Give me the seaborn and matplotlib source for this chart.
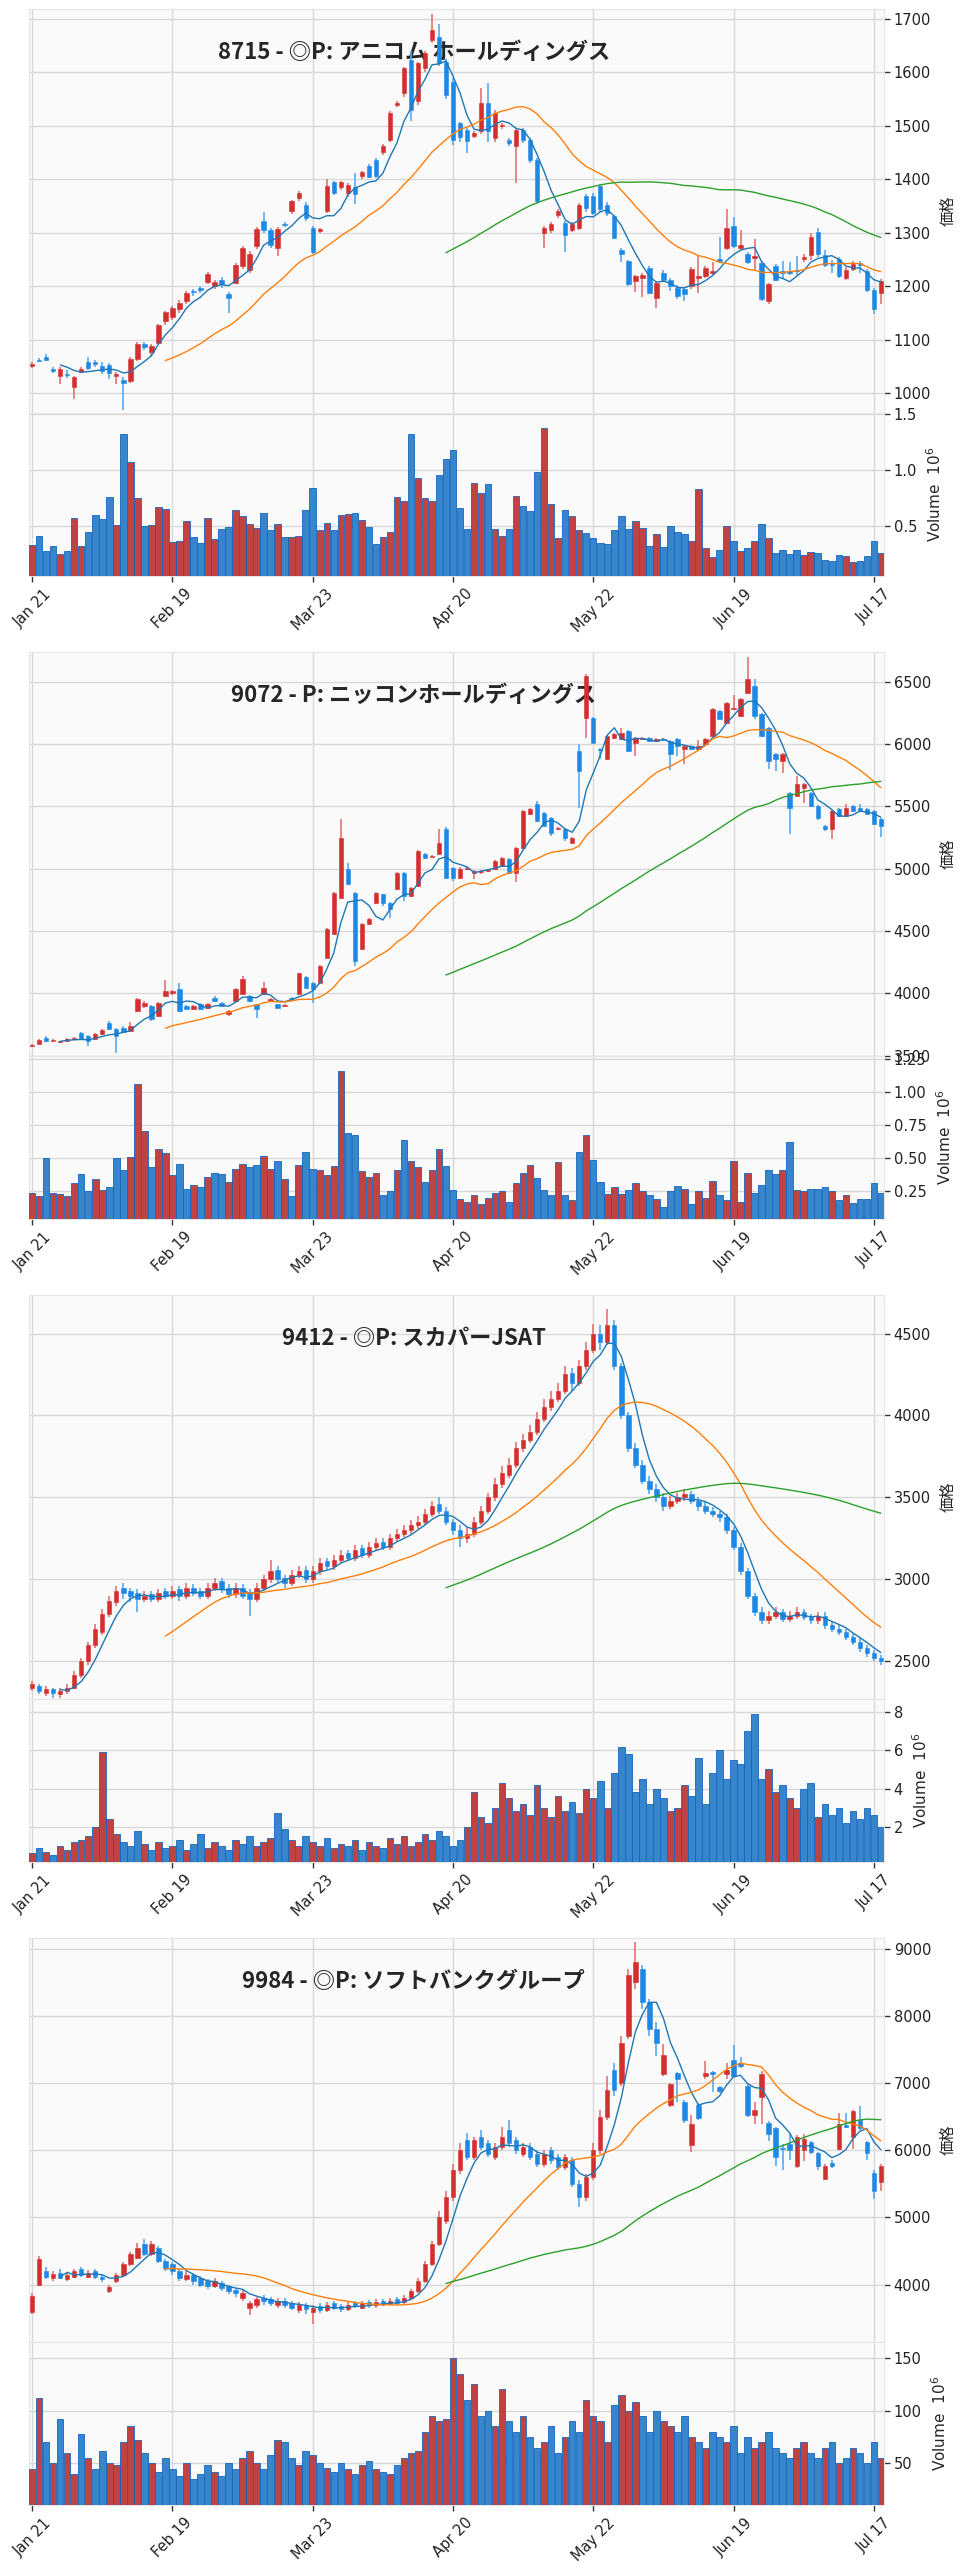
import numpy as np
import pandas as pd
import matplotlib
matplotlib.use("Agg")
import matplotlib.pyplot as plt
from matplotlib.ticker import MultipleLocator
import seaborn as sns

sns.set_theme(style="whitegrid")
plt.rcParams['font.family'] = ['DejaVu Sans', 'Noto Sans CJK JP']
plt.rcParams['axes.unicode_minus'] = False

# ---------------- data ----------------
TICK_POS = [0, 20, 40, 60, 80, 100, 120]
TICK_LABELS = ["Jan 21", "Feb 19", "Mar 23", "Apr 20", "May 22", "Jun 19", "Jul 17"]
TITLES = ["8715 - ◎P: アニコム ホールディングス", "9072 - P: ニッコンホールディングス",
          "9412 - ◎P: スカパーJSAT", "9984 - ◎P: ソフトバンクグループ"]
MA_WINDOWS = [5, 20, 60]
MA_COLORS = ["#1f77b4", "#ff7f0e", "#2ca02c"]

O1 = [1052,1063,1068,1046,1033,1037,1012,1041,1058,1058,
      1052,1053,1032,1025,1024,1064,1093,1078,1095,1135,
      1142,1157,1173,1192,1197,1208,1200,1213,1185,1207,
      1238,1230,1275,1322,1306,1272,1317,1341,1365,1352,
      1310,1304,1341,1395,1386,1375,1386,1406,1425,1437,
      1451,1474,1540,1561,1624,1546,1608,1661,1667,1620,
      1583,1505,1493,1481,1490,1543,1477,1499,1474,1462,
      1493,1474,1437,1300,1306,1334,1319,1306,1310,1369,
      1369,1387,1353,1331,1269,1247,1210,1216,1235,1179,
      1226,1213,1198,1195,1200,1216,1219,1225,1252,1272,
      1313,1272,1260,1253,1244,1173,1238,1228,1229,1230,
      1252,1258,1302,1258,1242,1251,1215,1233,1243,1229,
      1193,1188]
C1 = [1056,1061,1062,1042,1046,1034,1031,1046,1047,1055,
      1042,1039,1036,1020,1064,1093,1086,1089,1128,1152,
      1160,1170,1188,1189,1193,1223,1208,1204,1179,1240,
      1272,1260,1308,1306,1278,1308,1315,1359,1375,1328,
      1264,1307,1387,1375,1395,1390,1372,1413,1405,1406,
      1462,1524,1543,1608,1530,1617,1636,1680,1617,1558,
      1474,1480,1471,1487,1543,1490,1524,1502,1468,1493,
      1474,1437,1359,1310,1316,1341,1297,1316,1353,1347,
      1337,1344,1337,1291,1260,1204,1219,1222,1188,1207,
      1213,1200,1182,1185,1232,1220,1235,1229,1248,1310,
      1275,1278,1245,1257,1176,1204,1213,1225,1226,1228,
      1255,1292,1260,1241,1240,1220,1231,1242,1240,1193,
      1157,1210]
H1 = [1058,1066,1073,1050,1050,1044,1033,1049,1069,1063,
      1058,1057,1040,1030,1068,1096,1097,1092,1130,1155,
      1163,1174,1192,1196,1201,1227,1212,1218,1190,1243,
      1275,1266,1312,1340,1310,1312,1320,1362,1378,1357,
      1313,1310,1400,1398,1398,1393,1412,1416,1428,1440,
      1466,1528,1546,1611,1640,1620,1640,1709,1690,1625,
      1590,1508,1497,1490,1570,1580,1530,1505,1478,1496,
      1497,1478,1440,1313,1320,1345,1322,1320,1356,1372,
      1375,1392,1357,1334,1272,1250,1222,1226,1238,1210,
      1230,1216,1202,1198,1236,1258,1238,1245,1292,1345,
      1330,1305,1265,1288,1248,1207,1242,1248,1245,1256,
      1260,1300,1310,1268,1250,1255,1236,1248,1247,1232,
      1198,1214]
L1 = [1048,1059,1060,1038,1018,1028,990,1038,1044,1049,
      1036,1027,1018,969,1020,1060,1082,1070,1092,1128,
      1138,1150,1168,1183,1188,1204,1195,1198,1150,1204,
      1232,1226,1270,1300,1272,1257,1312,1336,1360,1322,
      1260,1300,1338,1370,1380,1368,1355,1400,1402,1403,
      1446,1470,1535,1555,1510,1540,1600,1655,1612,1550,
      1465,1470,1450,1478,1485,1470,1470,1494,1462,1393,
      1468,1430,1355,1272,1300,1328,1265,1302,1305,1340,
      1333,1340,1332,1288,1245,1200,1190,1180,1185,1160,
      1208,1192,1176,1172,1195,1188,1215,1222,1244,1268,
      1272,1268,1242,1228,1172,1168,1210,1215,1222,1222,
      1245,1250,1255,1236,1226,1215,1212,1228,1226,1190,
      1148,1168]
V1 = [0.33,0.41,0.28,0.32,0.25,0.28,0.57,0.32,0.45,0.60,
      0.56,0.76,0.51,1.32,1.07,0.75,0.50,0.51,0.67,0.65,
      0.36,0.37,0.54,0.40,0.35,0.57,0.38,0.47,0.49,0.64,
      0.59,0.52,0.48,0.62,0.46,0.52,0.40,0.40,0.41,0.64,
      0.84,0.46,0.53,0.46,0.60,0.61,0.62,0.55,0.49,0.34,
      0.40,0.45,0.76,0.72,1.32,0.93,0.75,0.72,0.95,1.10,
      1.18,0.66,0.47,0.88,0.79,0.87,0.47,0.41,0.47,0.77,
      0.68,0.63,0.98,1.37,0.70,0.39,0.64,0.59,0.46,0.44,
      0.39,0.35,0.34,0.46,0.59,0.47,0.54,0.48,0.32,0.43,
      0.31,0.50,0.45,0.43,0.37,0.83,0.30,0.22,0.29,0.50,
      0.37,0.28,0.30,0.37,0.52,0.39,0.26,0.29,0.25,0.29,
      0.24,0.27,0.26,0.20,0.19,0.24,0.23,0.18,0.19,0.23,
      0.37,0.26]

O2 = [3578,3596,3644,3618,3608,3616,3631,3684,3658,3631,
      3671,3765,3711,3725,3698,3858,3898,3898,3818,3979,
      4003,4032,3898,3872,3912,3885,3965,3925,3832,3938,
      3992,3979,3912,3992,3938,3912,3898,3965,3992,4134,
      4086,4086,4286,4473,4767,4995,4808,4353,4553,4727,
      4794,4727,4834,4968,4781,4861,5115,5096,5115,5316,
      5008,4928,4995,4968,4970,4980,4995,5021,5075,4968,
      5169,5436,5516,5449,5409,5316,5316,5209,5944,6211,
      6211,5962,5877,6050,6038,6104,6011,6040,6045,6024,
      6038,6024,6038,5957,5984,5957,5997,6064,6265,6171,
      6278,6225,6412,6465,6238,6131,5917,5864,5610,5583,
      5650,5610,5503,5342,5316,5476,5423,5503,5489,5476,
      5463,5396]
C2 = [3588,3626,3618,3628,3614,3630,3644,3631,3618,3671,
      3706,3711,3658,3690,3738,3952,3925,3791,3925,4019,
      4016,3858,3872,3898,3872,3912,3938,3898,3858,4032,
      4118,3938,3872,4045,3952,3885,3908,3952,4160,4045,
      4032,4219,4513,4808,5249,4874,4259,4553,4594,4808,
      4727,4674,4968,4781,4848,5142,5088,5102,5209,4928,
      4928,5000,5005,4981,4980,4990,5062,5088,4968,5169,
      5463,5476,5383,5342,5289,5329,5249,5249,5784,6545,
      6011,5952,6064,6077,6091,5944,6051,6048,6024,6038,
      6032,5917,5984,5984,5957,5984,6038,6278,6198,6332,
      6291,6358,6519,6225,6064,5864,5877,5917,5489,5677,
      5677,5503,5409,5316,5463,5423,5489,5463,5463,5436,
      5356,5342]
H2 = [3595,3632,3660,3636,3620,3640,3650,3690,3664,3680,
      3715,3775,3720,3740,3770,3960,3935,3905,3930,4110,
      4030,4080,3910,3905,3920,3920,3975,3932,3865,4040,
      4140,3985,3918,4090,3960,3918,3912,3970,4165,4140,
      4090,4225,4520,4815,5396,5048,4815,4560,4600,4815,
      4800,4735,4975,4975,4855,5150,5125,5108,5320,5330,
      5015,5010,5012,4990,4990,5000,5070,5095,5082,5176,
      5470,5483,5540,5456,5415,5336,5322,5256,6000,6560,
      6218,5968,6071,6090,6130,6111,6058,6055,6052,6045,
      6045,6031,6045,5991,5991,6030,6045,6285,6272,6339,
      6390,6365,6701,6520,6245,6138,5924,5924,5617,5740,
      5684,5617,5510,5349,5470,5483,5520,5510,5520,5483,
      5470,5403]
L2 = [3570,3590,3612,3612,3600,3610,3625,3625,3577,3625,
      3665,3705,3524,3680,3690,3850,3880,3780,3810,3970,
      3990,3850,3865,3865,3865,3878,3930,3890,3820,3930,
      3985,3930,3805,3985,3930,3878,3892,3945,3985,4040,
      3925,4080,4280,4465,4760,4868,4220,4345,4545,4720,
      4700,4600,4828,4740,4775,4855,5080,5090,5108,4920,
      4900,4920,4985,4920,4960,4970,4988,5015,4960,4890,
      5160,5428,5375,5335,5260,5308,5220,5202,5489,6050,
      6004,5880,5870,6043,6031,5937,5900,6033,6017,6017,
      6025,5790,5900,5840,5950,5950,5990,6057,6191,6164,
      6271,6218,6405,6200,6057,5800,5780,5770,5280,5576,
      5530,5496,5390,5300,5240,5416,5416,5456,5456,5429,
      5349,5250]
V2 = [0.24,0.21,0.50,0.24,0.23,0.21,0.31,0.38,0.25,0.34,
      0.26,0.28,0.50,0.41,0.51,1.06,0.71,0.43,0.57,0.54,
      0.37,0.46,0.27,0.30,0.28,0.36,0.39,0.38,0.32,0.42,
      0.46,0.43,0.45,0.52,0.42,0.48,0.34,0.21,0.45,0.55,
      0.42,0.41,0.37,0.44,1.16,0.69,0.68,0.40,0.36,0.39,
      0.22,0.25,0.41,0.64,0.48,0.43,0.32,0.41,0.57,0.44,
      0.26,0.19,0.17,0.22,0.15,0.20,0.24,0.25,0.17,0.31,
      0.39,0.45,0.35,0.26,0.22,0.47,0.22,0.18,0.55,0.68,
      0.49,0.32,0.23,0.28,0.23,0.26,0.31,0.25,0.22,0.19,
      0.13,0.25,0.29,0.27,0.15,0.25,0.20,0.33,0.22,0.18,
      0.48,0.17,0.39,0.24,0.30,0.41,0.38,0.41,0.62,0.26,
      0.25,0.27,0.27,0.28,0.25,0.18,0.22,0.16,0.19,0.19,
      0.31,0.24]

O3 = [2340,2350,2310,2330,2300,2320,2340,2420,2500,2600,
      2680,2790,2860,2950,2930,2920,2880,2910,2880,2930,
      2900,2940,2900,2950,2930,2900,2950,2990,2950,2910,
      2950,2920,2880,2950,3000,3060,3010,2980,3030,3060,
      3000,3050,3110,3080,3120,3160,3130,3190,3150,3200,
      3230,3200,3250,3280,3300,3330,3350,3400,3460,3420,
      3350,3300,3250,3280,3350,3420,3500,3580,3640,3700,
      3800,3850,3900,3980,4050,4100,4150,4260,4200,4300,
      4400,4500,4450,4550,4300,4000,3800,3700,3600,3550,
      3500,3450,3480,3500,3520,3480,3450,3420,3400,3380,
      3300,3200,3050,2900,2800,2750,2780,2800,2760,2780,
      2800,2770,2750,2780,2720,2700,2680,2650,2620,2580,
      2550,2520]
C3 = [2360,2320,2330,2310,2320,2340,2420,2500,2600,2700,
      2790,2870,2930,2920,2900,2880,2900,2880,2920,2900,
      2930,2900,2950,2920,2900,2950,2980,2940,2910,2950,
      2900,2880,2950,3000,3050,3000,2980,3030,3050,3000,
      3050,3100,3080,3120,3150,3130,3180,3150,3200,3220,
      3200,3250,3280,3300,3330,3350,3400,3450,3420,3350,
      3300,3250,3280,3350,3420,3500,3580,3650,3700,3800,
      3850,3900,3980,4050,4100,4150,4250,4200,4300,4400,
      4500,4450,4550,4300,4000,3800,3700,3600,3550,3500,
      3450,3480,3500,3520,3480,3450,3420,3400,3380,3300,
      3200,3050,2900,2800,2750,2780,2800,2760,2780,2800,
      2770,2750,2780,2720,2700,2680,2650,2620,2580,2550,
      2520,2500]
H3 = [2380,2360,2350,2340,2340,2360,2440,2520,2620,2730,
      2820,2900,2960,2980,2950,2940,2930,2930,2940,2950,
      2960,2960,2980,2970,2950,2980,3010,3010,2970,2980,
      2970,2940,2980,3030,3120,3080,3030,3060,3080,3080,
      3080,3130,3130,3150,3180,3180,3210,3210,3230,3250,
      3250,3280,3310,3330,3360,3390,3430,3480,3500,3440,
      3370,3330,3320,3380,3450,3530,3620,3690,3740,3840,
      3890,3940,4020,4100,4150,4200,4300,4290,4340,4450,
      4560,4550,4650,4580,4320,4020,3830,3730,3630,3580,
      3530,3510,3530,3550,3540,3500,3470,3440,3420,3400,
      3320,3220,3070,2920,2830,2810,2830,2820,2810,2830,
      2820,2790,2800,2800,2740,2720,2700,2670,2640,2600,
      2570,2540]
L3 = [2320,2300,2290,2280,2280,2300,2330,2400,2480,2580,
      2660,2770,2840,2880,2860,2800,2860,2860,2860,2880,
      2880,2870,2880,2900,2880,2880,2930,2920,2890,2890,
      2880,2780,2860,2930,2980,2980,2950,2960,3010,2980,
      2980,3030,3060,3060,3100,3110,3110,3130,3130,3180,
      3180,3180,3230,3260,3280,3310,3330,3380,3400,3330,
      3270,3200,3220,3260,3330,3400,3480,3560,3620,3680,
      3780,3830,3880,3960,4030,4080,4130,4150,4180,4280,
      4380,4400,4430,4280,3980,3780,3680,3580,3520,3470,
      3420,3430,3460,3480,3460,3420,3400,3380,3350,3280,
      3180,3030,2880,2780,2730,2730,2760,2740,2740,2760,
      2750,2730,2730,2700,2680,2660,2630,2600,2560,2530,
      2500,2480]
V3 = [0.6,0.9,0.7,0.5,1.0,0.8,1.2,1.3,1.5,2.0,
      5.9,2.4,1.6,1.2,1.0,1.8,1.1,0.8,1.2,0.9,
      1.0,1.3,0.8,1.1,1.6,0.9,1.2,1.0,0.8,1.3,
      1.1,1.5,1.0,1.2,1.4,2.7,1.9,1.3,1.0,1.5,
      1.2,1.0,1.4,0.9,1.1,1.0,1.3,0.8,1.2,1.0,
      0.9,1.4,1.1,1.5,1.0,1.2,1.6,1.3,1.8,1.5,
      1.0,1.3,2.0,3.8,2.5,2.2,3.0,4.3,3.5,2.8,
      3.2,2.6,4.2,3.0,2.5,3.6,2.8,3.3,2.7,4.0,
      3.5,4.4,3.0,4.8,6.2,5.8,3.8,4.5,3.2,4.0,
      3.5,2.8,3.0,4.2,3.6,5.6,3.2,4.8,6.0,4.5,
      5.5,5.3,7.0,7.9,4.5,5.0,3.8,4.2,3.5,3.0,
      4.0,4.3,2.5,3.2,2.6,3.0,2.2,2.8,2.4,3.0,
      2.6,2.0]

O4 = [3600,4000,4200,4100,4180,4090,4120,4230,4120,4200,
      4120,3900,4050,4150,4300,4400,4600,4450,4550,4350,
      4300,4200,4080,4150,4100,4050,3980,4020,3980,3920,
      3800,3650,3700,3800,3780,3700,3760,3720,3620,3700,
      3600,3680,3620,3720,3680,3640,3720,3660,3740,3690,
      3760,3710,3780,3740,3800,3900,4050,4300,4600,4950,
      5300,5700,6150,5900,6200,6100,5900,6050,6300,6150,
      5950,6050,5950,5800,6000,5900,5750,5850,5500,5300,
      5600,6000,6500,7200,7000,7700,8500,8700,8200,7800,
      7128,6672,7152,6720,6072,6672,7104,7160,6936,7128,
      7344,7296,6960,6528,6792,6408,6326,6040,6096,5760,
      6000,6120,5952,5578,5808,6024,6370,6192,6446,6120,
      5664,5520]
C4 = [3830,4380,4120,4160,4100,4150,4200,4150,4180,4120,
      4080,3960,4150,4300,4450,4550,4450,4600,4350,4250,
      4200,4100,4150,4050,4000,3980,4050,3950,3900,3870,
      3880,3720,3780,3750,3720,3760,3700,3660,3700,3640,
      3660,3620,3700,3660,3640,3700,3680,3720,3700,3740,
      3710,3760,3730,3800,3900,4050,4300,4600,5000,5300,
      5700,6000,5900,6150,6050,5950,6050,6200,6100,6000,
      6050,5900,5800,5950,5850,5750,5900,5500,5300,5600,
      6000,6500,6900,6900,7600,8600,8800,8200,7800,7600,
      7416,6984,7056,6456,6384,6480,7142,7140,6888,7190,
      7104,7248,6518,6600,7128,6240,5894,6020,6000,6192,
      6168,5976,5770,5770,5760,6384,6350,6576,6336,5962,
      5400,5760]
H4 = [3880,4420,4260,4200,4230,4180,4240,4260,4220,4230,
      4150,4000,4180,4330,4480,4620,4680,4650,4580,4380,
      4330,4250,4200,4180,4130,4080,4100,4050,4000,3950,
      3920,3760,3820,3840,3820,3800,3800,3760,3740,3730,
      3700,3720,3740,3760,3710,3740,3760,3760,3770,3780,
      3790,3800,3810,3840,3940,4100,4350,4650,5100,5400,
      5800,6100,6250,6200,6300,6150,6100,6350,6450,6200,
      6100,6100,6000,6000,6050,5950,5950,5900,5550,5650,
      6100,6600,7100,7300,7700,8700,9100,8750,8250,7900,
      7584,7000,7170,6740,6528,6700,7320,7180,6960,7296,
      7560,7392,6980,6720,7180,6430,6340,6096,6240,6220,
      6240,6140,5970,5800,5860,6552,6552,6600,6660,6140,
      5700,5790]
L4 = [3560,3980,4080,4060,4080,4050,4100,4120,4100,4080,
      4040,3880,4020,4120,4280,4380,4420,4420,4320,4200,
      4150,4050,4050,4000,3960,3940,3950,3900,3860,3820,
      3760,3550,3650,3700,3680,3660,3650,3620,3580,3560,
      3420,3580,3590,3630,3600,3610,3650,3640,3660,3660,
      3680,3690,3700,3710,3780,3880,4020,4280,4580,4900,
      5250,5650,5850,5850,6000,5900,5850,6000,6050,5950,
      5900,5850,5750,5750,5800,5700,5700,5450,5150,5250,
      5550,5950,6450,6800,6950,7650,8400,8100,7700,7400,
      7100,6640,6720,6400,5976,6450,7056,6864,6850,7056,
      7080,7230,6500,6384,6384,6144,5760,5712,5856,5740,
      5832,5950,5700,5560,5740,6000,6336,6024,6300,5856,
      5280,5400]
V4 = [45,112,70,50,92,60,40,78,55,45,
      62,50,48,70,85,72,60,50,42,55,
      45,38,50,35,40,48,42,38,50,45,
      55,62,50,45,58,72,70,55,48,62,
      58,50,46,42,50,45,40,48,52,45,
      42,40,48,55,60,62,80,95,90,92,
      150,135,110,125,95,100,85,120,90,80,
      95,75,65,70,85,60,75,90,80,110,
      95,90,70,105,115,100,108,95,80,100,
      90,85,80,95,75,70,65,80,75,70,
      85,60,75,65,70,80,65,60,55,65,
      70,60,55,65,70,50,55,65,60,50,
      70,55]

PRICE_YLIM = [(963.5, 1718), (3497, 6735), (2271, 4733), (3147, 9152)]
PRICE_STEP = [100, 500, 500, 1000]
VOL_STEP = [0.5, 0.25, 2, 50]

panels = [
    dict(o=O1, h=H1, l=L1, c=C1, v=V1),
    dict(o=O2, h=H2, l=L2, c=C2, v=V2),
    dict(o=O3, h=H3, l=L3, c=C3, v=V3),
    dict(o=O4, h=H4, l=L4, c=C4, v=V4),
]

UP = "#d32f2f"
DOWN = "#1e88e5"
UP_WICK = "#e57373"
DOWN_WICK = "#5aa9ee"
UP_EDGE = "#b71c1c"
DOWN_EDGE = "#1565c0"

W, H = 960.0, 2572.0
PANEL_H = 643.0
LEFT, RIGHT = 29.0, 884.0


def rect(top, bottom):
    return [LEFT / W, 1 - bottom / H, (RIGHT - LEFT) / W, (bottom - top) / H]


fig = plt.figure(figsize=(9.6, 25.72), dpi=100)
fig.patch.set_facecolor("white")

for k, p in enumerate(panels):
    T = PANEL_H * k
    o = np.array(p["o"], float)
    c = np.array(p["c"], float)
    h = np.maximum(np.array(p["h"], float), np.maximum(o, c))
    l = np.minimum(np.array(p["l"], float), np.minimum(o, c))
    v = np.array(p["v"], float)
    n = len(c)
    x = np.arange(n)
    up = c >= o
    df = pd.DataFrame({"x": x, "open": o, "high": h, "low": l, "close": c,
                       "volume": v, "dir": np.where(up, "up", "down")})

    ax = fig.add_axes(rect(T + 9.3, T + 413))
    vax = fig.add_axes(rect(T + 413, T + 576), sharex=ax)
    for a in (ax, vax):
        a.set_facecolor("#fafafa")
        for s in a.spines.values():
            s.set_color("#e6e6e6")
            s.set_linewidth(0.8)
        a.grid(True, color="#d9d9d9", lw=1.0)
        a.set_axisbelow(True)

    # candles
    ax.vlines(df["x"], df["low"], df["high"],
              colors=np.where(up, UP_WICK, DOWN_WICK), lw=1.2, zorder=2)
    body_h = np.maximum(np.abs(c - o), (PRICE_YLIM[k][1] - PRICE_YLIM[k][0]) * 0.002)
    ax.bar(df["x"], body_h, bottom=np.minimum(o, c), width=0.62,
           color=np.where(up, UP, DOWN), edgecolor=np.where(up, UP, DOWN),
           lw=0.4, zorder=3)

    # moving averages
    for w, col in zip(MA_WINDOWS, MA_COLORS):
        ma = df["close"].rolling(w).mean()
        sns.lineplot(x=df["x"], y=ma, ax=ax, color=col, lw=1.0, zorder=4)

    ax.text(0.45, 0.894, TITLES[k], transform=ax.transAxes, ha="center", va="center",
            fontsize=16, fontweight="bold", family=["Noto Sans CJK JP", "DejaVu Sans"],
            zorder=1)

    ax.set_xlim(-0.45, n - 0.55)
    ax.set_ylim(*PRICE_YLIM[k])
    ax.yaxis.set_major_locator(MultipleLocator(PRICE_STEP[k]))
    ax.yaxis.tick_right()
    ax.yaxis.set_label_position("right")
    ax.set_ylabel("価格", family=["Noto Sans CJK JP"], fontsize=11, labelpad=6)
    ax.set_xlabel("")
    ax.tick_params(axis="y", right=True, left=False, length=4, width=1,
                   color="#333333", labelsize=10.5, pad=3, labelcolor="#222222")
    ax.tick_params(axis="x", bottom=False, labelbottom=False)

    # volume
    sns.barplot(data=df, x="x", y="volume", hue="dir", native_scale=True,
                palette={"up": UP, "down": DOWN}, dodge=False, width=0.92,
                legend=False, ax=vax, zorder=3)
    for patch in vax.patches:
        fc = matplotlib.colors.to_hex(patch.get_facecolor())
        patch.set_edgecolor(UP_EDGE if fc.lower() == UP else DOWN_EDGE)
        patch.set_linewidth(0.6)
    vax.set_ylim(0.3 * v.min(), 1.1 * v.max())
    vax.yaxis.set_major_locator(MultipleLocator(VOL_STEP[k]))
    vax.yaxis.tick_right()
    vax.yaxis.set_label_position("right")
    vax.set_ylabel("Volume  $10^{6}$", fontsize=11, labelpad=6)
    vax.set_xlabel("")
    vax.set_xticks(TICK_POS)
    vax.set_xticklabels(TICK_LABELS)
    vax.tick_params(axis="y", right=True, left=False, length=4, width=1,
                    color="#333333", labelsize=10.5, pad=3, labelcolor="#222222")
    vax.tick_params(axis="x", bottom=True, length=4, width=1, color="#333333",
                    labelsize=10.5, labelrotation=45, labelcolor="#222222")
    vax.set_xlim(-0.45, n - 0.55)

fig.savefig("out.png", dpi=100)
